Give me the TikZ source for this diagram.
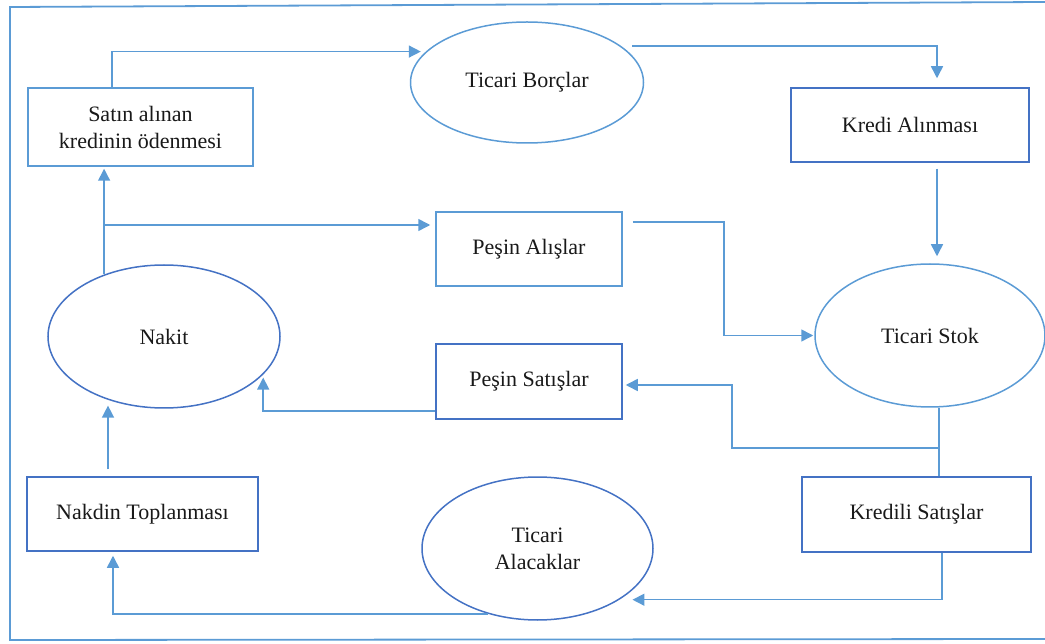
\documentclass[tikz,border=0pt]{standalone}
\usepackage{fontspec}
\setmainfont{Liberation Serif}
\usetikzlibrary{shapes.geometric,arrows.meta}
\definecolor{lblue}{RGB}{91,155,213}
\definecolor{dblue}{RGB}{68,114,196}
\begin{document}
\begin{tikzpicture}[x=1pt,y=-1pt,
  lbl/.style={font=\fontsize{22}{27}\selectfont, text=black!90, align=center},
  boxl/.style={lbl, draw=lblue, line width=1.5pt, rectangle, inner sep=0pt},
  boxd/.style={lbl, draw=dblue, line width=1.5pt, rectangle, inner sep=0pt},
  ell/.style={lbl, draw=lblue, line width=1.5pt, ellipse, inner sep=0pt},
  elld/.style={lbl, draw=dblue, line width=1.5pt, ellipse, inner sep=0pt},
  arr/.style={draw=lblue, line width=1.5pt, -{Triangle[length=12pt,width=12pt]}},
  con/.style={draw=lblue, line width=1.5pt},
  frame/.style={draw=lblue, line width=1.8pt}]
\useasboundingbox (0,0) rectangle (1045,644);
\draw[frame] (1045,2) -- (10,7) -- (10,640) -- (1045,639);

\node[boxl, minimum width=225pt, minimum height=78pt] (sat) at (140.5,127) {Satın alınan\\kredinin ödenmesi};
\node[ell, minimum width=233pt, minimum height=121pt] (tb) at (527,82.5) {Ticari Borçlar};
\node[boxd, minimum width=238pt, minimum height=74pt] (kr) at (910,125) {Kredi Alınması};
\node[elld, minimum width=232pt, minimum height=143pt] (nak) at (164,336.5) {Nakit};
\node[boxl, minimum width=186pt, minimum height=74pt] (pa) at (529,249) {Peşin Alışlar};
\node[ell, minimum width=230pt, minimum height=143pt] (ts) at (930,335.5) {Ticari Stok};
\node[boxd, minimum width=186pt, minimum height=75pt] (ps) at (529,381.5) {Peşin Satışlar};
\node[boxd, minimum width=231pt, minimum height=74pt] (nt) at (142.5,514) {Nakdin Toplanması};
\node[elld, minimum width=231pt, minimum height=143pt] (ta) at (537.5,548.5) {Ticari\\Alacaklar};
\node[boxd, minimum width=229pt, minimum height=75pt] (ks) at (916.5,514.5) {Kredili Satışlar};

\coordinate (xa) at (112,0);
\coordinate (xb) at (937,0);
\coordinate (xc) at (105,225);
\coordinate (ye) at (0,222);
\coordinate (xe) at (724,0);
\coordinate (xf) at (939,448);
\coordinate (xg) at (732,385);
\coordinate (xh) at (942,0);
\coordinate (xi) at (113,0);
\coordinate (yj) at (0,411);
\coordinate (xk) at (108,0);

% Satin -> Ticari Borclar
\draw[arr, shorten >=5pt] (sat.north -| xa) |- (tb.163);
% Ticari Borclar -> Kredi
\draw[arr, shorten <=11pt, shorten >=9pt] (tb.21) -| (kr.north -| xb);
% Kredi -> Ticari Stok
\draw[arr, shorten <=6pt, shorten >=7pt] (kr.south -| xb) -- (ts.north -| xb);
% Nakit -> Satin
\draw[arr, shorten >=2pt] (nak.134) -- (nak.134 |- sat.south);
% branch -> Pesin Alislar
\draw[arr, shorten >=5pt] (xc) -- (pa.west |- xc);
% Pesin Alislar -> Ticari Stok
\draw[arr, shorten <=10pt, shorten >=1pt] (pa.east |- ye) -| (xe |- ts.west) -- (ts.west);
% Ticari Stok -> Kredili Satislar
\draw[con] (ts.south -| xf) -- (ks.north -| xf);
% branch -> Pesin Satislar
\draw[arr, shorten >=3pt] (xf) -| (xg) -- (ps.east |- xg);
% Kredili -> Ticari Alacaklar
\draw[arr, shorten >=13pt] (ks.south -| xh) |- (ta.-32);
% Ticari Alacaklar -> Nakdin Toplanmasi
\draw[arr, shorten >=4pt] (ta.-127) -| (nt.south -| xi);
% Pesin Satislar -> Nakit
\draw[arr, shorten >=3pt] (ps.west |- yj) -| (nak.-21);
% Nakdin Toplanmasi -> Nakit
\draw[arr, shorten <=7pt, shorten >=6pt] (nt.north -| xk) -- (xk |- nak.-132);
\end{tikzpicture}
\end{document}
